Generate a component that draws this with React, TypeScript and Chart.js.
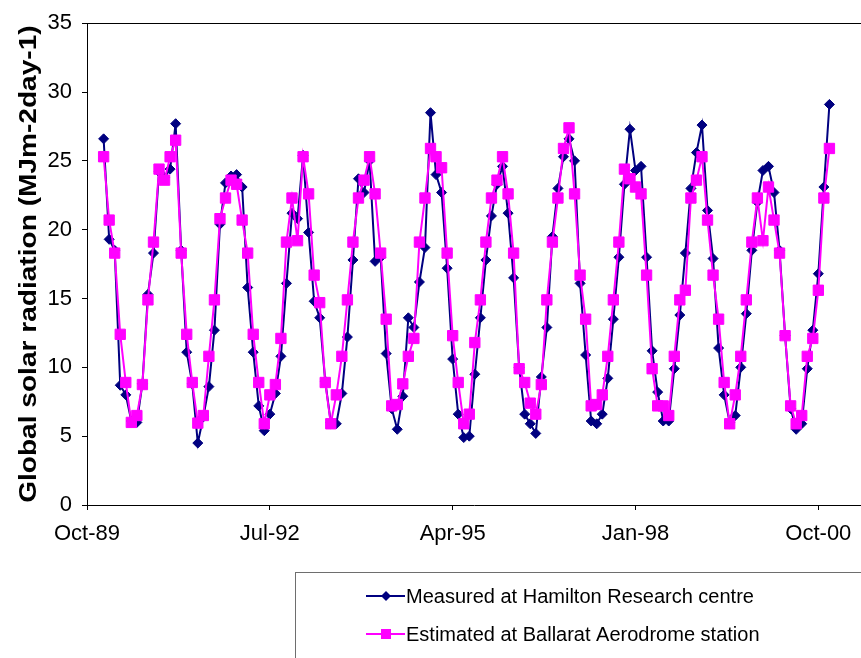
import React, { useEffect, useRef } from 'react';
import { Chart, registerables } from 'chart.js';

Chart.register(...registerables);

// ---- data ----
const seriesNames = ['Measured at Hamilton Research centre', 'Estimated at Ballarat Aerodrome station'];
const yAxisTitle = 'Global solar radiation (MJm-2day-1)';
const xTickMonths = [0, 33, 66, 99, 132]; // months after Oct-89
const xTickLabels = ['Oct-89', 'Jul-92', 'Apr-95', 'Jan-98', 'Oct-00'];
const firstMonthOffset = 3; // Jan-90 is 3 months after Oct-89

const measured = [
  26.6, 19.3, 18.5, 8.7, 8.0, 6.1, 6.0, 8.8, 15.3, 18.3, 24.2, 23.8,
  24.4, 27.7, 18.5, 11.1, 8.8, 4.5, 6.4, 8.6, 12.7, 20.4, 23.4, 23.9,
  24.0, 23.1, 15.8, 11.1, 7.2, 5.4, 6.6, 8.1, 10.8, 16.1, 21.2, 20.8,
  25.4, 19.8, 14.8, 13.6, 9.0, 6.0, 5.9, 8.1, 12.2, 17.8, 23.7, 22.7,
  25.0, 17.7, 18.0, 11.0, 7.0, 5.5, 7.9, 13.6, 12.9, 16.2, 18.7, 28.5,
  24.0, 22.7, 17.2, 10.6, 6.6, 4.9, 5.0, 9.5, 13.6, 17.8, 21.0, 23.3,
  24.6, 21.2, 16.5, 10.0, 6.6, 5.9, 5.2, 9.3, 12.9, 19.5, 23.0, 25.3,
  26.6, 25.0, 16.1, 10.9, 6.1, 5.9, 6.6, 9.2, 13.5, 18.0, 23.3, 27.3,
  24.3, 24.6, 18.0, 11.2, 8.2, 6.1, 6.1, 9.9, 13.8, 18.3, 23.0, 25.6,
  27.6, 21.4, 17.9, 11.4, 8.0, 6.0, 6.5, 10.0, 13.9, 18.5, 22.0, 24.3,
  24.6, 22.7, 18.5, 12.3, 7.0, 5.5, 5.9, 9.9, 12.7, 16.8, 23.1, 29.1,
];

const estimated = [
  25.3, 20.7, 18.3, 12.4, 8.9, 6.0, 6.5, 8.75, 14.9, 19.1, 24.4, 23.6,
  25.3, 26.5, 18.3, 12.4, 8.9, 5.95, 6.5, 10.8, 14.9, 20.8, 22.3, 23.6,
  23.3, 20.7, 18.3, 12.4, 8.9, 5.9, 8.0, 8.75, 12.1, 19.1, 22.3, 19.2,
  25.3, 22.6, 16.7, 14.7, 8.9, 5.9, 8.0, 10.8, 14.9, 19.1, 22.3, 23.6,
  25.3, 22.6, 18.3, 13.5, 7.2, 7.3, 8.8, 10.8, 12.1, 19.1, 22.3, 25.9,
  25.3, 24.5, 18.3, 12.3, 8.9, 5.9, 6.6, 11.8, 14.9, 19.1, 22.3, 23.6,
  25.3, 22.6, 18.3, 9.9, 8.9, 7.4, 6.6, 8.75, 14.9, 19.1, 22.3, 25.9,
  27.4, 22.6, 16.7, 13.5, 7.2, 7.3, 8.0, 10.8, 14.9, 19.1, 24.4, 23.7,
  23.1, 22.6, 16.7, 9.9, 7.2, 7.2, 6.5, 10.8, 14.9, 15.6, 22.3, 23.6,
  25.3, 20.7, 16.7, 13.5, 8.9, 5.9, 8.0, 10.8, 14.9, 19.1, 22.3, 19.2,
  23.1, 20.7, 18.3, 12.3, 7.2, 5.9, 6.5, 10.8, 12.1, 15.6, 22.3, 25.9,
];

const FONT = '"Liberation Sans", Arial, sans-serif';
const NAVY = '#000080';
const PINK = '#FF00FF';

const framePlugin = {
  id: 'topFrame',
  afterDraw(chart: any) {
    const { ctx, chartArea } = chart;
    ctx.save();
    ctx.strokeStyle = '#000000';
    ctx.lineWidth = 1;
    ctx.beginPath();
    ctx.moveTo(chartArea.left, Math.round(chartArea.top) + 0.5);
    ctx.lineTo(chart.width, Math.round(chartArea.top) + 0.5);
    ctx.stroke();
    ctx.restore();
  },
};

const titlePlugin = {
  id: 'yTitle',
  afterDraw(chart: any) {
    const { ctx, chartArea } = chart;
    ctx.save();
    ctx.translate(36, (chartArea.top + chartArea.bottom) / 2);
    ctx.rotate(-Math.PI / 2);
    ctx.scale(1.17, 1);
    ctx.fillStyle = '#000000';
    ctx.font = `bold 24px ${FONT}`;
    ctx.textAlign = 'center';
    ctx.textBaseline = 'alphabetic';
    ctx.fillText(yAxisTitle, 0, 0);
    ctx.restore();
  },
};

const legendPlugin = {
  id: 'boxLegend',
  afterDraw(chart: any) {
    const ctx = chart.ctx;
    ctx.save();
    ctx.strokeStyle = '#6e6e6e';
    ctx.lineWidth = 1;
    ctx.strokeRect(295.5, 572.5, 700, 200);
    const rows = [596, 634];
    chart.data.datasets.forEach((ds: any, i: number) => {
      const y = rows[i];
      ctx.strokeStyle = ds.borderColor;
      ctx.lineWidth = 2;
      ctx.beginPath();
      ctx.moveTo(366, y);
      ctx.lineTo(405, y);
      ctx.stroke();
      ctx.fillStyle = ds.pointBackgroundColor;
      const cx = 386;
      ctx.beginPath();
      if (ds.pointStyle === 'rectRot') {
        ctx.moveTo(cx - 5, y);
        ctx.lineTo(cx, y - 5);
        ctx.lineTo(cx + 5, y);
        ctx.lineTo(cx, y + 5);
        ctx.closePath();
      } else {
        ctx.rect(cx - 5, y - 5, 10, 10);
      }
      ctx.fill();
      ctx.fillStyle = '#000000';
      ctx.font = `20px ${FONT}`;
      ctx.textBaseline = 'middle';
      ctx.textAlign = 'left';
      ctx.fillText(ds.label, 406, y + 1);
    });
    ctx.restore();
  },
};

export default function App() {
  const ref = useRef<HTMLCanvasElement | null>(null);

  useEffect(() => {
    if (!ref.current) return;
    const toPoints = (arr: number[]) => arr.map((v, i) => ({ x: firstMonthOffset + i, y: v }));
    const chart = new Chart(ref.current, {
      type: 'line',
      data: {
        datasets: [
          {
            label: seriesNames[0],
            data: toPoints(measured),
            borderColor: NAVY,
            backgroundColor: NAVY,
            pointBackgroundColor: NAVY,
            pointBorderColor: NAVY,
            pointStyle: 'rectRot',
            pointRadius: 5,
            pointBorderWidth: 1,
            borderWidth: 2,
            tension: 0,
            order: 1,
          },
          {
            label: seriesNames[1],
            data: toPoints(estimated),
            borderColor: PINK,
            backgroundColor: PINK,
            pointBackgroundColor: PINK,
            pointBorderColor: PINK,
            pointStyle: 'rect',
            pointRadius: 7.3,
            pointBorderWidth: 1,
            borderWidth: 2,
            tension: 0,
            order: 0,
          },
        ],
      } as any,
      options: {
        animation: false,
        responsive: false,
        maintainAspectRatio: false,
        layout: { autoPadding: false, padding: { top: 17, right: 0, left: 0, bottom: 0 } },
        plugins: { legend: { display: false }, tooltip: { enabled: false } },
        scales: {
          x: {
            type: 'linear',
            min: 0,
            max: 139.7,
            afterBuildTicks: (s: any) => {
              s.ticks = xTickMonths.map((v) => ({ value: v }));
            },
            afterFit: (s: any) => {
              s.height = 153;
              s.paddingRight = 0;
              s.paddingLeft = 0;
            },
            ticks: {
              autoSkip: false,
              maxRotation: 0,
              color: '#000000',
              font: { family: FONT, size: 22 },
              padding: 11,
              callback: (v: any) => {
                const i = xTickMonths.indexOf(Number(v));
                return i >= 0 ? xTickLabels[i] : '';
              },
            },
            grid: { drawOnChartArea: false, drawTicks: true, tickLength: 5, color: '#000000' },
            border: { color: '#000000', width: 1 },
          },
          y: {
            min: 0,
            max: 35,
            afterFit: (s: any) => {
              s.width = 87;
            },
            ticks: {
              stepSize: 5,
              color: '#000000',
              font: { family: FONT, size: 22 },
              padding: 10,
            },
            title: { display: false },
            grid: { drawOnChartArea: false, drawTicks: true, tickLength: 5, color: '#000000' },
            border: { color: '#000000', width: 1 },
          },
        },
      } as any,
      plugins: [framePlugin, titlePlugin, legendPlugin],
    });
    return () => chart.destroy();
  }, []);

  return (
    <div style={{ position: 'absolute', left: 0, top: 0, width: 861, height: 658, overflow: 'hidden', background: '#ffffff' }}>
      <canvas ref={ref} width={861} height={658} style={{ display: 'block' }} />
    </div>
  );
}
